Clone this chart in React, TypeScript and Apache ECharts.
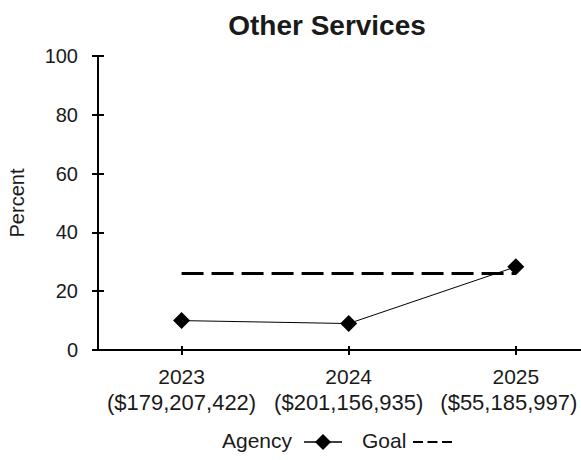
import React, { useEffect, useRef } from "react";
import * as echarts from "echarts";

const years = ["2023", "2024", "2025"];
const amounts = ["($179,207,422)", "($201,156,935)", "($55,185,997)"];
const agencyValues = [10, 9, 28.3];
const goalValues = [26, 26, 26];
const yTicks = { min: 0, max: 100, interval: 20 };

const FONT = "'Liberation Sans', Arial, sans-serif";
const TEXT = "#1a1a1a";

export default function App() {
  const ref = useRef<HTMLDivElement>(null);
  useEffect(() => {
    if (!ref.current) return;
    const chart = echarts.init(ref.current, null, { renderer: "svg" });
    const idx = years.map((_, i) => i);
    const labelFmt = (v: number) => {
      const i = Math.round(v);
      const style = i === years.length - 1 ? "b" : "a";
      return `{y|${years[i]}}\n{${style}|${amounts[i]}}`;
    };
    const xBase = {
      type: "value",
      min: -0.5,
      max: 2.39,
      position: "bottom",
      splitLine: { show: false },
    };
    chart.setOption({
      animation: false,
      backgroundColor: "#fff",
      title: {
        text: "Other Services",
        left: 322,
        top: 6,
        textAlign: "center",
        textStyle: { fontSize: 28, fontWeight: "bold", fontFamily: FONT, color: TEXT },
      },
      grid: { left: 98, top: 56, right: 0, height: 294, containLabel: false, outerBoundsMode: "none" },
      xAxis: [
        {
          ...xBase,
          axisLine: { show: true, onZero: false, lineStyle: { color: "#000", width: 2 } },
          axisTick: { show: true, customValues: idx, length: 5, lineStyle: { color: "#000", width: 2 } },
          axisLabel: {
            customValues: idx,
            formatter: labelFmt,
            margin: 13,
            fontFamily: FONT,
            color: TEXT,
            rich: {
              y: { fontSize: 21, lineHeight: 26, fontFamily: FONT, color: TEXT },
              a: { fontSize: 22, lineHeight: 26, fontFamily: FONT, color: TEXT },
              b: { fontSize: 22, lineHeight: 26, fontFamily: FONT, color: TEXT, padding: [0, 14, 0, 0] },
            },
          },
        },
        {
          ...xBase,
          offset: 0,
          axisLine: { show: false, onZero: false },
          axisTick: { show: true, inside: true, customValues: idx, length: 4, lineStyle: { color: "#000", width: 2 } },
          axisLabel: { show: false },
        },
      ],
      yAxis: [
        {
          type: "value",
          min: yTicks.min,
          max: yTicks.max,
          interval: yTicks.interval,
          name: "Percent",
          nameLocation: "middle",
          nameRotate: 90,
          nameGap: 71,
          nameTextStyle: { fontSize: 20, fontFamily: FONT, color: TEXT },
          axisLine: { show: true, onZero: false, lineStyle: { color: "#000", width: 2 } },
          axisTick: { show: true, length: 6, lineStyle: { color: "#000", width: 2 } },
          axisLabel: { fontSize: 20, fontFamily: FONT, color: TEXT, margin: 20 },
          splitLine: { show: false },
        },
        {
          type: "value",
          min: yTicks.min,
          max: yTicks.max,
          interval: yTicks.interval,
          position: "left",
          offset: 0,
          axisLine: { show: false, onZero: false },
          axisTick: { show: true, inside: true, length: 6, lineStyle: { color: "#000", width: 2 } },
          axisLabel: { show: false },
          splitLine: { show: false },
        },
      ],
      series: [
        {
          name: "Goal",
          type: "line",
          data: goalValues.map((v, i) => [i, v]),
          symbol: "none",
          lineStyle: { color: "#000", width: 3, type: [22, 8] },
          silent: true,
          z: 2,
        },
        {
          name: "Agency",
          type: "line",
          data: agencyValues.map((v, i) => [i, v]),
          symbol: "diamond",
          symbolSize: 17,
          itemStyle: { color: "#000" },
          lineStyle: { color: "#000", width: 1 },
          z: 3,
        },
      ],
      graphic: [
        {
          type: "text",
          left: 222,
          top: 430,
          style: { text: "Agency", font: `21px ${FONT}`, fill: TEXT },
        },
        {
          type: "line",
          shape: { x1: 304, y1: 442, x2: 342, y2: 442 },
          style: { stroke: "#000", lineWidth: 1.5 },
        },
        {
          type: "polygon",
          shape: { points: [[323, 434], [331, 442], [323, 450], [315, 442]] },
          style: { fill: "#000" },
        },
        {
          type: "text",
          left: 362,
          top: 430,
          style: { text: "Goal", font: `21px ${FONT}`, fill: TEXT },
        },
        {
          type: "line",
          shape: { x1: 413, y1: 442, x2: 452, y2: 442 },
          style: { stroke: "#000", lineWidth: 2, lineDash: [10, 4.5] },
        },
      ],
    });
    return () => chart.dispose();
  }, []);
  return <div ref={ref} style={{ position: "absolute", left: 0, top: 0, width: 581, height: 460 }} />;
}
